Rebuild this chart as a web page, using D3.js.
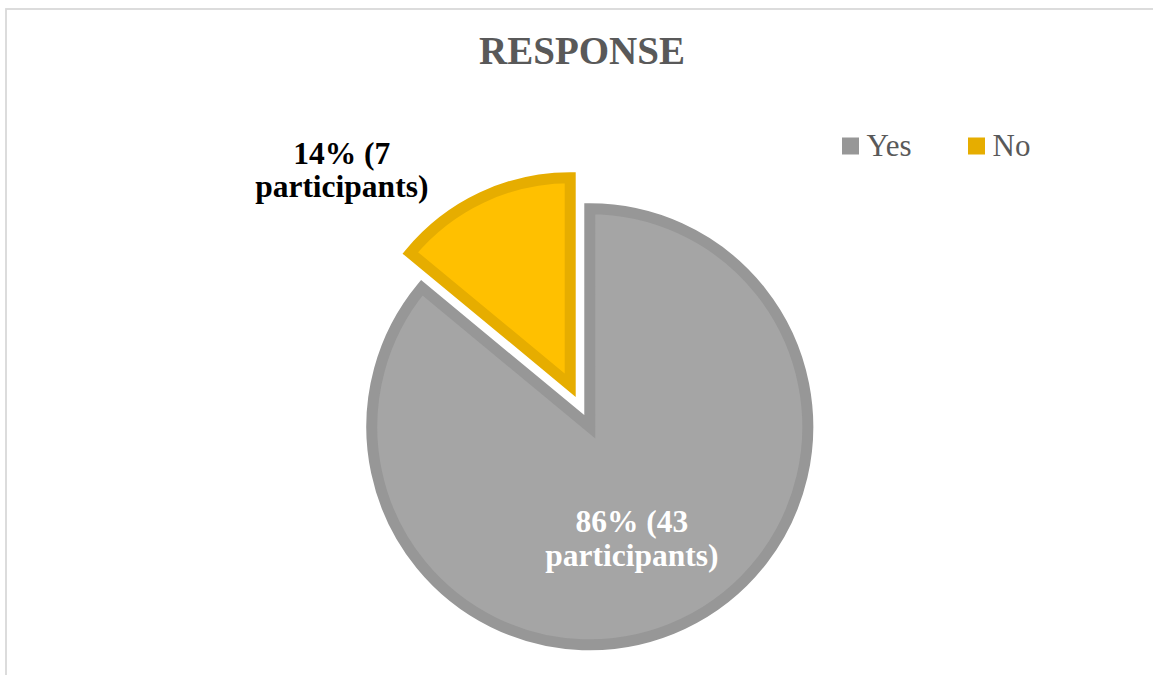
<!DOCTYPE html>
<html>
<head>
<meta charset="utf-8">
<script src="https://cdn.jsdelivr.net/npm/d3@7"></script>
<style>
  html, body { margin: 0; padding: 0; background: #ffffff; }
  svg { display: block; }
  text { font-family: "Liberation Serif", "Times New Roman", serif; }
</style>
</head>
<body>
<svg id="chart" width="1153" height="675"></svg>
<script>
// Survey answers
const categories = ["Yes", "No"];
const participants = [43, 7];
const chartTitle = "RESPONSE";

const width = 1153, height = 675;
const svg = d3.select("#chart");

// chart area outline (runs off the right and bottom edges)
svg.append("rect")
  .attr("x", 6).attr("y", 9)
  .attr("width", 1160).attr("height", 680)
  .attr("fill", "#ffffff")
  .attr("stroke", "#d9d9d9")
  .attr("stroke-width", 1.8);

// title
svg.append("text")
  .attr("x", 582).attr("y", 64)
  .attr("text-anchor", "middle")
  .attr("font-size", 39)
  .attr("font-weight", "bold")
  .attr("fill", "#595959")
  .text(chartTitle);

const data = categories.map((c, i) => ({ category: c, value: participants[i] }));
const total = d3.sum(participants);
const pct = d3.format(".0%");

const color = d3.scaleOrdinal().domain(categories).range(["#a5a5a5", "#ffc000"]);
const edge = d3.scaleOrdinal().domain(categories).range(["#979797", "#e6ad00"]);

const pie = d3.pie().sort(null).value(d => d.value).startAngle(0).endAngle(2 * Math.PI);
const arcs = pie(data);

const cx = 580, cy = 406;   // pie centre before slices are pulled apart
const R = 218;
const explode = 23;         // distance each slice is pulled out along its middle
const radiusOf = d => d.data.category === "No" ? R * 0.952 : R;

const arcGen = d3.arc().innerRadius(0).outerRadius(radiusOf);

const slices = svg.append("g").selectAll("g.slice")
  .data(arcs)
  .join("g")
  .attr("class", "slice")
  .attr("transform", d => {
    const mid = (d.startAngle + d.endAngle) / 2;
    const [dx, dy] = d3.pointRadial(mid, explode);
    return `translate(${cx + dx},${cy + dy})`;
  });

slices.append("path")
  .attr("d", arcGen)
  .attr("fill", d => color(d.data.category))
  .attr("stroke", d => edge(d.data.category))
  .attr("stroke-width", 11)
  .attr("stroke-linejoin", "miter");

// data labels: two lines, "xx% (n" / "participants)"
function labelLines(d) {
  return [pct(d.data.value / total) + " (" + d.data.value, "participants)"];
}

slices.each(function(d) {
  const g = d3.select(this);
  const r = radiusOf(d);
  let x, y, fill;
  if (d.data.category === "Yes") {
    const mid = (d.startAngle + d.endAngle) / 2;
    [x, y] = d3.pointRadial(mid + 0.084, r * 0.554);
    fill = "#ffffff";
  } else {
    [x, y] = d3.pointRadial(d.startAngle + 0.065, r * 1.5);
    x -= 2;
    fill = "#000000";
  }
  const t = g.append("text")
    .attr("text-anchor", "middle")
    .attr("font-size", 31.5)
    .attr("font-weight", "bold")
    .attr("fill", fill);
  labelLines(d).forEach((line, i) => {
    t.append("tspan")
      .attr("x", x)
      .attr("y", y - 8 + i * 33.5)
      .text(line);
  });
});

// legend
const legendX = [842, 968];
const legend = svg.append("g").selectAll("g.key")
  .data(categories)
  .join("g")
  .attr("class", "key")
  .attr("transform", (c, i) => `translate(${legendX[i]},137.5)`);

legend.append("rect")
  .attr("width", 17).attr("height", 17)
  .attr("fill", c => edge(c));

legend.append("text")
  .attr("x", 24.5).attr("y", 18.2)
  .attr("font-size", 31)
  .attr("fill", "#595959")
  .text(c => c);
</script>
</body>
</html>
